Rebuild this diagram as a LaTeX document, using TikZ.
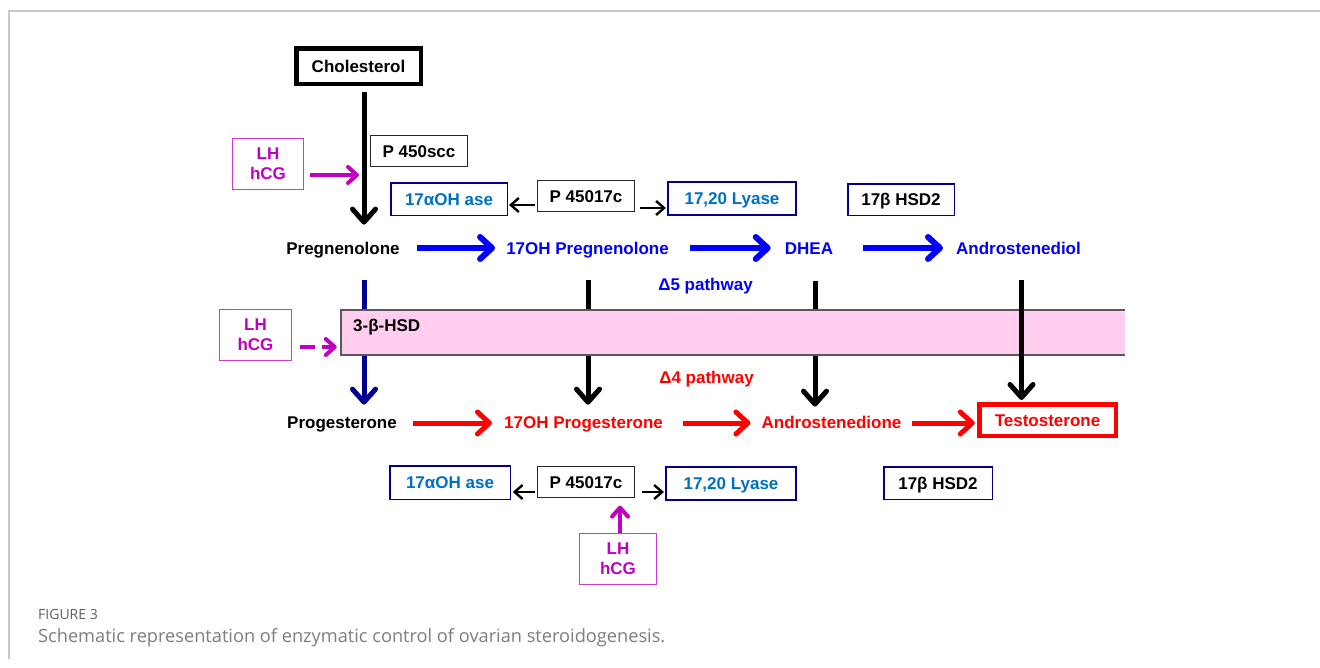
\documentclass[tikz,border=0pt]{standalone}
\usepackage{fontspec}
\setmainfont{Liberation Sans}
\newfontfamily\capfont{Open Sans}
\usetikzlibrary{arrows.meta}
\definecolor{encblue}{RGB}{0,112,192}
\definecolor{navyb}{RGB}{0,0,140}
\definecolor{magtxt}{RGB}{192,0,192}
\definecolor{magbord}{RGB}{204,60,204}
\definecolor{pinkfill}{RGB}{255,206,238}
\definecolor{rectline}{RGB}{95,85,95}
\definecolor{framegray}{RGB}{200,200,200}
\definecolor{navyarr}{RGB}{0,0,145}
\definecolor{capgray}{RGB}{125,125,125}
\definecolor{figgray}{RGB}{95,95,95}
\definecolor{pblue}{RGB}{0,0,255}
\definecolor{pred}{RGB}{255,0,0}
\begin{document}
\begin{tikzpicture}[x=1pt,y=-1pt,
  lbl/.style={font=\bfseries\fontsize{17}{20}\selectfont, inner sep=0pt, text height=12.3pt, text depth=0pt},
  sz/.style n args={2}{minimum width=#1pt, minimum height=#2pt},
  plainbox/.style={lbl, draw=black!85, line width=1.2pt},
  enzbox/.style={lbl, draw=navyb, line width=1.5pt, text=encblue},
  lhbox/.style={font=\bfseries\fontsize{17}{20}\selectfont, inner sep=0pt, align=center, draw=magbord, line width=1.3pt, text=magtxt},
  bigblk/.style={line width=5pt, -{Straight Barb[length=13pt,width=23pt,round]}},
  bluearr/.style={line width=6pt, pblue, -{Straight Barb[length=12pt,width=22pt,round]}},
  redarr/.style={line width=5pt, pred, -{Straight Barb[length=12pt,width=22pt,round]}},
  smallarr/.style={line width=2.4pt, black, -{Straight Barb[length=8pt,width=14pt]}},
  magarr/.style={line width=4pt, magtxt, -{Straight Barb[length=9pt,width=16pt,round]}},
]
\useasboundingbox (0,0) rectangle (1320,667);
% frame
\draw[framegray, line width=1.5pt] (9,659) -- (9,11) -- (1320,11);

% top part
\node[lbl, sz={124.5}{35.5}, draw=black, line width=4.5pt] (chol) at (358.5,66) {Cholesterol};
\node[plainbox, sz={97}{31}] (p450) at (419,151) {P 450scc};
\node[lhbox, sz={71}{51}] (lh1) at (268,164) {LH\\hCG};
\node[enzbox, sz={116.5}{32.5}] (aoh1) at (449,199) {17αOH ase};
\node[plainbox, sz={97}{31}] (p17a) at (586,196) {P 45017c};
\node[enzbox, sz={128}{33}, line width=2.2pt] (lya1) at (732,198.5) {17,20 Lyase};
\node[enzbox, sz={106.5}{31.5}, text=black] (hsd1) at (901,199.5) {17β HSD2};

% row 1
\node[lbl] (preg) at (343,248) {Pregnenolone};
\node[lbl, text=pblue] (oh17p) at (587.5,248) {17OH Pregnenolone};
\node[lbl, text=pblue] (dhea) at (809,248) {DHEA};
\node[lbl, text=pblue] (adiol) at (1018.5,248) {Androstenediol};
\node[lbl, text=pblue] (d5) at (705.5,284) {Δ5 pathway};

\coordinate (j1) at (359,175);
\draw[bigblk] ([xshift=5.5pt,yshift=-6pt]chol.south) -- ([xshift=21pt,yshift=17pt]preg.north);
\draw[magarr] ([xshift=6pt,yshift=-11pt]lh1.east) -- (j1);
\draw[smallarr] ([xshift=-2pt,yshift=-9pt]p17a.west) -- ([xshift=1pt,yshift=-6pt]aoh1.east);
\draw[smallarr] ([xshift=5pt,yshift=-12pt]p17a.east) -- ([xshift=-1pt,yshift=-9.5pt]lya1.west);

\draw[bluearr] ([xshift=17pt]preg.east) -- ([xshift=-11pt]oh17p.west);
\draw[bluearr] ([xshift=21pt]oh17p.east) -- ([xshift=-14pt]dhea.west);
\draw[bluearr] ([xshift=30pt]dhea.east) -- ([xshift=-13pt]adiol.west);

% row 2 nodes
\node[lbl] (prog) at (342,422) {Progesterone};
\node[lbl, text=pred] (oh17prog) at (583.5,422) {17OH Progesterone};
\node[lbl, text=pred] (andione) at (831.5,422) {Androstenedione};
\node[lbl, sz={136.5}{31.5}, draw=pred, line width=4.5pt, text=pred] (testo) at (1047.5,420) {Testosterone};
\node[lbl, text=pred] (d4) at (706.5,377) {Δ4 pathway};

% vertical arrows behind the band
\draw[bigblk, navyarr] ([xshift=21pt,yshift=-26pt]preg.south) -- ([xshift=22pt,yshift=11pt]prog.north);
\draw[bigblk] ([xshift=0.5pt,yshift=-26pt]oh17p.south) -- ([xshift=4.5pt,yshift=11pt]oh17prog.north);
\draw[bigblk] ([xshift=6pt,yshift=-27pt]dhea.south) -- ([xshift=-16.5pt,yshift=9pt]andione.north);

% 3-beta-HSD band
\node[inner sep=0pt, minimum width=784pt, minimum height=45pt, fill=pinkfill] (hsd3) at (733,332.5) {};
\draw[rectline, line width=2pt] (hsd3.north east) -- (hsd3.north west) -- (hsd3.south west) -- (hsd3.south east);
\node[lbl, anchor=west] (hsd3lbl) at (353,325) {3-β-HSD};

\draw[bigblk] ([xshift=3pt,yshift=-26pt]adiol.south) -- ([xshift=-26pt,yshift=2pt]testo.north);

\node[lhbox, sz={72}{51}] (lh2) at (255.5,335) {LH\\hCG};
\draw[magarr, dash pattern=on 15pt off 7pt] ([xshift=8pt,yshift=-12pt]lh2.east) -- ([xshift=-4pt,yshift=-14.5pt]hsd3.west);

\draw[redarr] ([xshift=16pt,yshift=-1pt]prog.east) -- ([xshift=-12pt,yshift=-1pt]oh17prog.west);
\draw[redarr] ([xshift=20pt,yshift=-1pt]oh17prog.east) -- ([xshift=-11pt,yshift=-1pt]andione.west);
\draw[redarr] ([xshift=10pt,yshift=-1pt]andione.east) -- ([xshift=-2.25pt,yshift=-3pt]testo.west);

% bottom row
\node[enzbox, sz={120.5}{33.5}] (aoh2) at (450,482.5) {17αOH ase};
\node[plainbox, sz={97}{31}] (p17b) at (586,482) {P 45017c};
\node[enzbox, sz={130}{33}, line width=2.2pt] (lya2) at (731,483.5) {17,20 Lyase};
\node[enzbox, sz={108.5}{32.5}, text=black] (hsd2) at (938,483) {17β HSD2};
\node[lhbox, sz={76.5}{50.5}] (lh3) at (618,559) {LH\\hCG};

\draw[smallarr] ([xshift=-1.5pt,yshift=-10pt]p17b.west) -- ([xshift=1.75pt,yshift=-9.5pt]aoh2.east);
\draw[smallarr] ([xshift=6.5pt,yshift=-10pt]p17b.east) -- ([xshift=-1pt,yshift=-8.5pt]lya2.west);
\draw[magarr] ([xshift=2pt]lh3.north) -- ([xshift=34pt,yshift=-7.5pt]p17b.south);

% caption
\node[anchor=west, inner sep=0pt, font=\capfont\fontsize{14}{16}\selectfont, text=figgray] (fig) at (38,614) {FIGURE 3};
\node[anchor=west, inner sep=0pt, font=\capfont\fontsize{18.2}{22}\selectfont, text=capgray] (cap) at (38,638) {Schematic representation of enzymatic control of ovarian steroidogenesis.};
\end{tikzpicture}
\end{document}
